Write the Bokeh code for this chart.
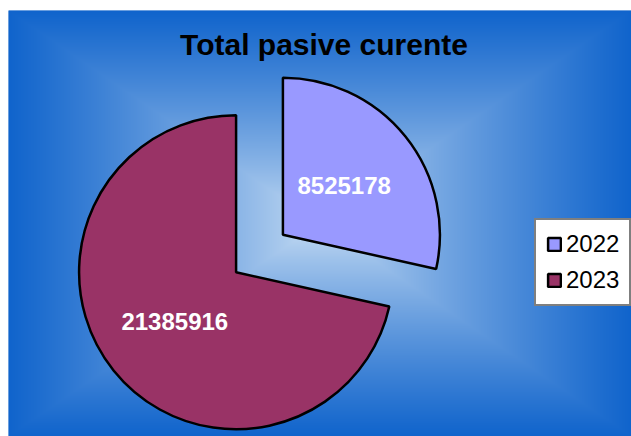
import numpy as np
from bokeh.plotting import figure
from bokeh.models import Range1d, Label, Legend, LegendItem, ColumnDataSource
from bokeh.core.properties import value
from bokeh.embed import file_html
from bokeh.resources import INLINE

# ---- data ----
categories = ["2022", "2023"]
values = [8525178, 21385916]
colors = ["#9999FF", "#993366"]
title_text = "Total pasive curente"

W, H = 623, 426
p = figure(width=W + 8, height=H + 10, output_backend="svg", toolbar_location=None,
           x_range=Range1d(0, W), y_range=Range1d(0, H),
           x_axis_type=None, y_axis_type=None,
           min_border_left=8, min_border_right=0, min_border_bottom=0, min_border_top=10)
p.outline_line_color = None
p.border_fill_color = "white"
p.background_fill_color = "#1466CC"

# ---- rectangular "from centre" gradient background ----
yy, xx = np.mgrid[0:H, 0:W] + 0.5
u = np.abs(xx - W / 2) / (W / 2)
v = np.abs(yy - H / 2) / (H / 2)
t = np.clip(np.maximum(u, v), 0, 1) ** 0.8
c_center = np.array([205, 225, 245])
c_edge = np.array([16, 100, 204])
rgb = c_center[None, None, :] + (c_edge - c_center)[None, None, :] * t[..., None]
img = np.zeros((H, W), dtype=np.uint32)
view = img.view(dtype=np.uint8).reshape((H, W, 4))
view[..., 0] = rgb[..., 0].astype(np.uint8)
view[..., 1] = rgb[..., 1].astype(np.uint8)
view[..., 2] = rgb[..., 2].astype(np.uint8)
view[..., 3] = 255
p.image_rgba(image=[img], x=0, y=0, dw=W, dh=H)

# ---- exploded pie ----
cx, cy, r, explode = 251, 183, 157, 30
vals = np.array(values, dtype=float)
frac = vals / vals.sum()
cum = np.concatenate([[0], np.cumsum(frac)])
start = np.pi / 2 - 2 * np.pi * cum[:-1]
end = np.pi / 2 - 2 * np.pi * cum[1:]
mid = (start + end) / 2
xs = cx + explode * np.cos(mid)
ys = cy + explode * np.sin(mid)
src = ColumnDataSource(dict(x=xs, y=ys, start=start, end=end, color=colors,
                            cat=categories,
                            lx=xs + 0.5 * r * np.cos(mid), ly=ys + 0.5 * r * np.sin(mid),
                            lab=[str(vv) for vv in values]))
wr = p.wedge(x="x", y="y", radius=r, start_angle="start", end_angle="end",
             direction="clock", fill_color="color", line_color="black",
             line_width=2.5, source=src)
p.text(x="lx", y="ly", text="lab", source=src, text_color="white",
       text_font=value("Liberation Sans"), text_font_style="bold",
       text_font_size="24px", text_align="center", text_baseline="middle")

# ---- title ----
p.add_layout(Label(x=315.5, y=392.5, text=title_text, text_align="center",
                   text_baseline="alphabetic", text_font="Liberation Sans",
                   text_font_style="bold", text_font_size="30px",
                   text_color="black"))

# ---- legend ----
legend = Legend(items=[LegendItem(label=categories[i], renderers=[wr], index=i)
                       for i in range(len(categories))],
                location=(526, 130), orientation="vertical",
                label_text_font="Liberation Sans", label_text_font_size="24px",
                label_text_color="black", glyph_width=16, glyph_height=16,
                label_height=28, label_standoff=4, spacing=8, padding=10,
                margin=0, border_line_color="black", border_line_width=2,
                background_fill_color="white", background_fill_alpha=1)
p.add_layout(legend, "center")

open("out.html", "w").write(file_html(p, INLINE))
